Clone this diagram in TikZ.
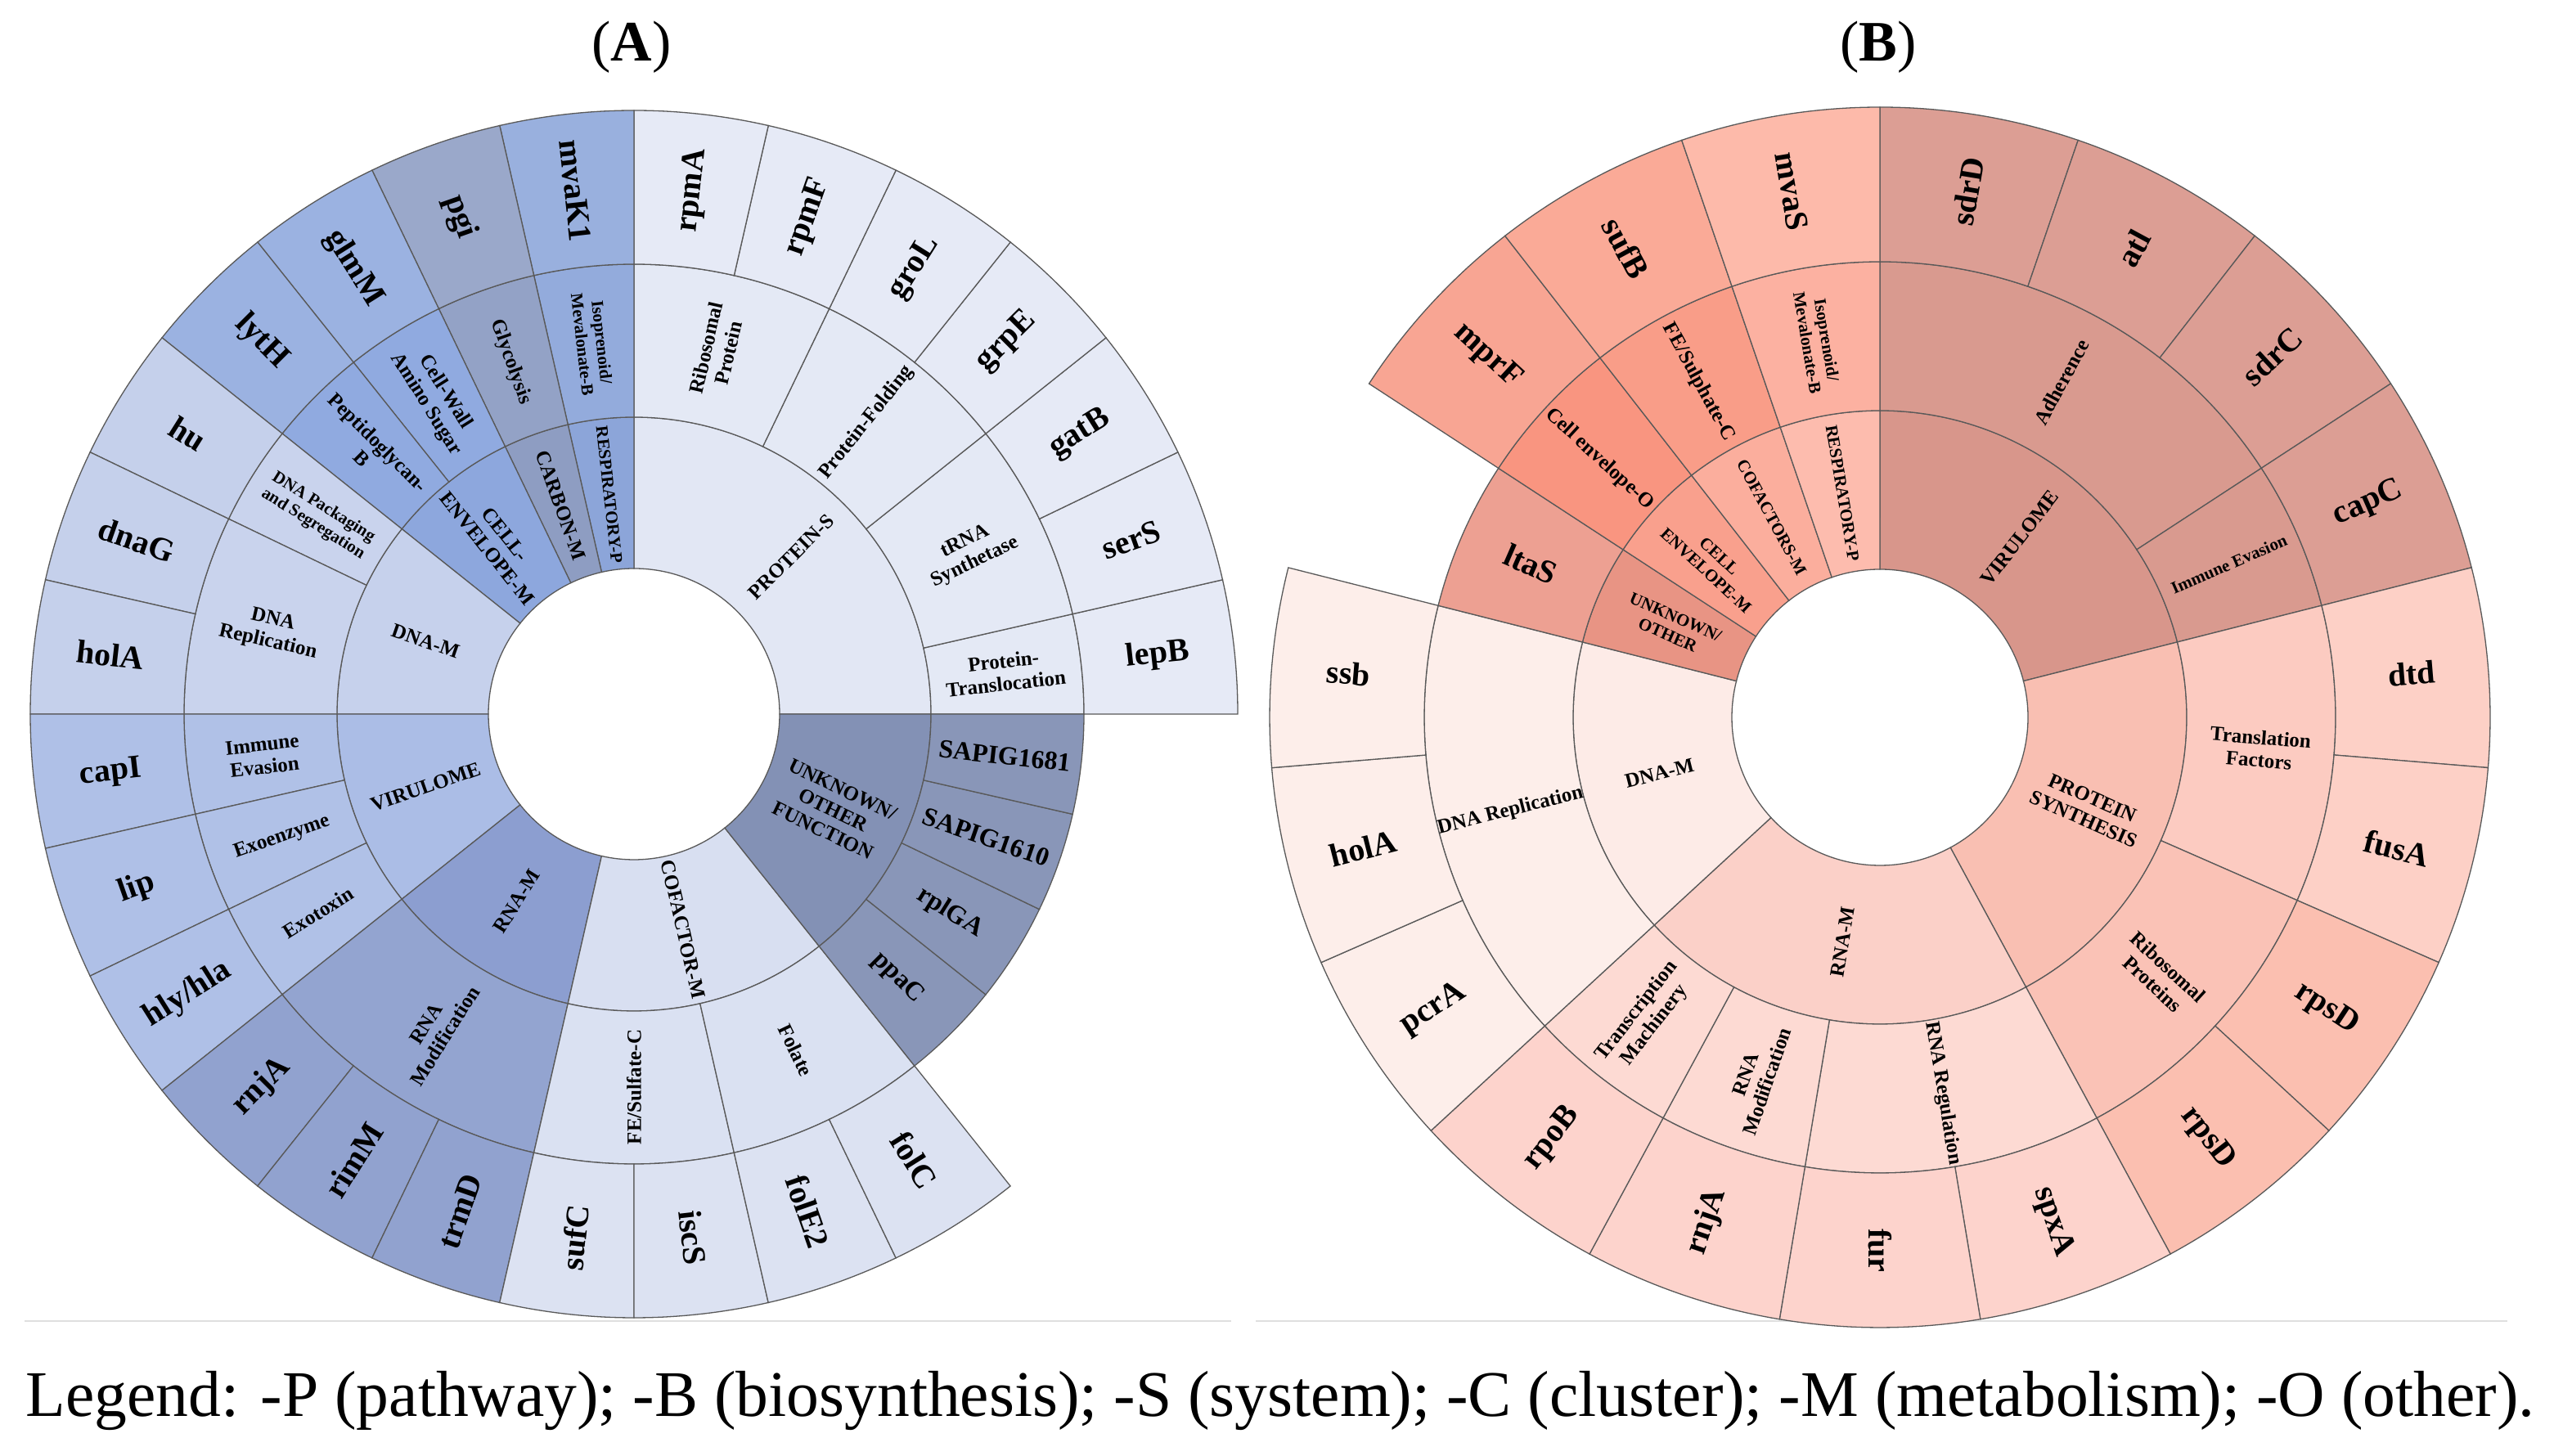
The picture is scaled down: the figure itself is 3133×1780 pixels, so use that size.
\documentclass[tikz,border=0pt]{standalone}
\usepackage{fontspec}
\setmainfont{Liberation Serif}
\usepackage{graphicx}
\newcommand{\sbseg}[5]{\filldraw[edge, fill=#5] ({#3}:#1) arc[start angle={#3}, end angle={#4}, radius=#1] -- ({#4}:#2) arc[start angle={#4}, end angle={#3}, radius=#2] -- cycle;}
\newcommand{\sblab}[4]{\pgfmathsetmacro\labang{mod(#2+720,360)}\pgfmathsetmacro\labrot{(\labang>90 && \labang<270) ? \labang-180 : \labang}\node[#3, rotate=\labrot, inner sep=1pt] at ({#2}:#1) {#4};}
\def\ua{12.857}
\def\ub{18.947}
\definecolor{pA1}{HTML}{E2E7F4}\definecolor{pA2}{HTML}{E4E9F5}\definecolor{pA3}{HTML}{E6EAF6}
\definecolor{rA1}{HTML}{8CA5D9}\definecolor{rA2}{HTML}{93ABDC}\definecolor{rA3}{HTML}{99B0DE}
\definecolor{cA1}{HTML}{8E9DC2}\definecolor{cA2}{HTML}{93A2C6}\definecolor{cA3}{HTML}{9AA8CA}
\definecolor{eA1}{HTML}{8DA7DD}\definecolor{eA2}{HTML}{90AAE0}\definecolor{eA3}{HTML}{9BB2E1}
\definecolor{dA1}{HTML}{C6D1EC}\definecolor{dA2}{HTML}{C9D3ED}\definecolor{dA3}{HTML}{C5D0EB}
\definecolor{vA1}{HTML}{ABBDE6}\definecolor{vA2}{HTML}{B0C1E7}\definecolor{vA3}{HTML}{AFC0E7}
\definecolor{nA1}{HTML}{8C9ED0}\definecolor{nA2}{HTML}{93A4D0}\definecolor{nA3}{HTML}{91A2CF}
\definecolor{fA1}{HTML}{D8DFF1}\definecolor{fA2}{HTML}{DAE1F2}\definecolor{fA3}{HTML}{DCE2F2}
\definecolor{uA1}{HTML}{8391B5}\definecolor{uA2}{HTML}{8996B8}
\definecolor{vB1}{HTML}{D8968B}\definecolor{vB2}{HTML}{D99A8F}\definecolor{vB3}{HTML}{DC9E94}
\definecolor{pB1}{HTML}{F9BFB2}\definecolor{pB2}{HTML}{FCCBC1}\definecolor{pB3}{HTML}{FAC2B6}\definecolor{pB4}{HTML}{FDD0C6}\definecolor{pB5}{HTML}{FBBFB0}
\definecolor{nB1}{HTML}{FBD0C8}\definecolor{nB2}{HTML}{FDDAD3}\definecolor{nB3}{HTML}{FDD3CC}
\definecolor{dB1}{HTML}{FDEBE7}\definecolor{dB2}{HTML}{FDEEEA}\definecolor{dB3}{HTML}{FDEEEA}
\definecolor{uB1}{HTML}{E89484}\definecolor{uB2}{HTML}{EDA092}
\definecolor{eB1}{HTML}{F9A08D}\definecolor{eB2}{HTML}{F99580}\definecolor{eB3}{HTML}{F8A593}
\definecolor{cB1}{HTML}{FBAE9D}\definecolor{cB2}{HTML}{F99D88}\definecolor{cB3}{HTML}{FAAA97}
\definecolor{rB1}{HTML}{FDBCAE}\definecolor{rB2}{HTML}{FCB1A1}\definecolor{rB3}{HTML}{FDBAAA}
\begin{document}
\begin{tikzpicture}[x=1pt,y=1pt,
  edge/.style={draw=black!65, line width=1.3pt},
  leaf/.style={font=\bfseries\fontsize{40}{44}\selectfont, align=center},
  leafs/.style={font=\bfseries\fontsize{32}{36}\selectfont, align=center},
  mid/.style={font=\bfseries\fontsize{25}{28}\selectfont, align=center},
  sm/.style={font=\bfseries\fontsize{21}{24}\selectfont, align=center}]
\useasboundingbox (0,0) rectangle (3133,1780);
\fill[white] (0,0) rectangle (3133,1780);
\draw[gray!25, line width=2pt] (30,165) -- (1505,165) (1535,165) -- (3065,165);
% ================= A =================
\begin{scope}[shift={(775,907)}]
\sbseg{178}{363}{0}{7*\ua}{pA1}
\sbseg{178}{363}{7*\ua}{8*\ua}{rA1}
\sbseg{178}{363}{8*\ua}{9*\ua}{cA1}
\sbseg{178}{363}{9*\ua}{11*\ua}{eA1}
\sbseg{178}{363}{11*\ua}{14*\ua}{dA1}
\sbseg{178}{363}{14*\ua}{17*\ua}{vA1}
\sbseg{178}{363}{17*\ua}{20*\ua}{nA1}
\sbseg{178}{363}{20*\ua}{24*\ua}{fA1}
\sbseg{178}{363}{24*\ua}{28*\ua}{uA1}
\sbseg{363}{550}{0}{1*\ua}{pA2}
\sbseg{363}{550}{1*\ua}{3*\ua}{pA2}
\sbseg{363}{550}{3*\ua}{5*\ua}{pA2}
\sbseg{363}{550}{5*\ua}{7*\ua}{pA2}
\sbseg{363}{550}{7*\ua}{8*\ua}{rA2}
\sbseg{363}{550}{8*\ua}{9*\ua}{cA2}
\sbseg{363}{550}{9*\ua}{10*\ua}{eA2}
\sbseg{363}{550}{10*\ua}{11*\ua}{eA2}
\sbseg{363}{550}{11*\ua}{12*\ua}{dA2}
\sbseg{363}{550}{12*\ua}{14*\ua}{dA2}
\sbseg{363}{550}{14*\ua}{15*\ua}{vA2}
\sbseg{363}{550}{15*\ua}{16*\ua}{vA2}
\sbseg{363}{550}{16*\ua}{17*\ua}{vA2}
\sbseg{363}{550}{17*\ua}{20*\ua}{nA2}
\sbseg{363}{550}{20*\ua}{22*\ua}{fA2}
\sbseg{363}{550}{22*\ua}{24*\ua}{fA2}
\foreach \k in {24,...,27}{\sbseg{363}{550}{\k*\ua}{(\k+1)*\ua}{uA2}}
\foreach \k in {0,...,6}{\sbseg{550}{738}{\k*\ua}{(\k+1)*\ua}{pA3}}
\sbseg{550}{738}{7*\ua}{8*\ua}{rA3}
\sbseg{550}{738}{8*\ua}{9*\ua}{cA3}
\foreach \k in {9,10}{\sbseg{550}{738}{\k*\ua}{(\k+1)*\ua}{eA3}}
\foreach \k in {11,12,13}{\sbseg{550}{738}{\k*\ua}{(\k+1)*\ua}{dA3}}
\foreach \k in {14,15,16}{\sbseg{550}{738}{\k*\ua}{(\k+1)*\ua}{vA3}}
\foreach \k in {17,18,19}{\sbseg{550}{738}{\k*\ua}{(\k+1)*\ua}{nA3}}
\foreach \k in {20,...,23}{\sbseg{550}{738}{\k*\ua}{(\k+1)*\ua}{fA3}}
\sblab{272}{3.5*\ua}{mid}{PROTEIN-S}
\sblab{270}{7.5*\ua}{sm}{RESPIRATORY-P}
\sblab{270}{8.5*\ua}{mid}{CARBON-M}
\sblab{270}{10*\ua}{mid}{CELL-\\ENVELOPE-M}
\sblab{270}{12.5*\ua}{mid}{DNA-M}
\sblab{270}{15.5*\ua}{mid}{VIRULOME}
\sblab{270}{18.5*\ua}{mid}{RNA-M}
\sblab{270}{22*\ua}{mid}{COFACTOR-M}
\sblab{270}{26*\ua}{mid}{UNKNOWN/\\OTHER\\FUNCTION}
\sblab{456}{0.5*\ua}{mid}{Protein-\\Translocation}
\sblab{456}{2*\ua}{mid}{tRNA\\Synthetase}
\sblab{456}{4*\ua}{mid}{Protein-Folding}
\sblab{456}{6*\ua}{mid}{Ribosomal\\Protein}
\sblab{456}{7.5*\ua}{sm}{Isoprenoid/\\Mevalonate-B}
\sblab{456}{8.5*\ua}{mid}{Glycolysis}
\sblab{456}{9.5*\ua}{mid}{Cell-Wall\\Amino Sugar}
\sblab{456}{10.5*\ua}{mid}{Peptidoglycan-\\B}
\sblab{456}{11.5*\ua}{sm}{DNA Packaging\\and Segregation}
\sblab{456}{13*\ua}{mid}{DNA\\Replication}
\sblab{456}{14.5*\ua}{mid}{Immune\\Evasion}
\sblab{456}{15.5*\ua}{mid}{Exoenzyme}
\sblab{456}{16.5*\ua}{mid}{Exotoxin}
\sblab{456}{18.5*\ua}{mid}{RNA\\Modification}
\sblab{456}{21*\ua}{mid}{FE/Sulfate-C}
\sblab{456}{23*\ua}{mid}{Folate}
\sblab{456}{24.5*\ua}{leafs}{ppaC}
\sblab{456}{25.5*\ua}{leafs}{rplGA}
\sblab{456}{26.5*\ua}{leafs}{SAPIG1610}
\sblab{456}{27.5*\ua}{leafs}{SAPIG1681}
\foreach \k/\t in {0/lepB,1/serS,2/gatB,3/grpE,4/groL,5/rpmF,6/rpmA,7/mvaK1,8/pgi,9/glmM,10/lytH,11/hu,12/dnaG,13/holA,14/capI,15/lip,16/hly\slash hla,17/rnjA,18/rimM,19/trmD,20/sufC,21/iscS,22/folE2,23/folC}{\sblab{644}{(\k+0.5)*\ua}{leaf}{\t}}
\end{scope}
\node (tA) at (772,1722) {\fontsize{70}{74}\selectfont(\textbf{A})};
% ================= B =================
\begin{scope}[shift={(2298,903)}]
\sbseg{181}{375}{90}{90-4*\ub}{vB1}
\sbseg{181}{375}{90-4*\ub}{90-8*\ub}{pB1}
\sbseg{181}{375}{90-8*\ub}{90-12*\ub}{nB1}
\sbseg{181}{375}{90-12*\ub}{90-15*\ub}{dB1}
\sbseg{181}{375}{90-15*\ub}{90-16*\ub}{uB1}
\sbseg{181}{375}{90-16*\ub}{90-17*\ub}{eB1}
\sbseg{181}{375}{90-17*\ub}{90-18*\ub}{cB1}
\sbseg{181}{375}{90-18*\ub}{90-19*\ub}{rB1}
\sbseg{375}{557}{90}{90-3*\ub}{vB2}
\sbseg{375}{557}{90-3*\ub}{90-4*\ub}{vB2}
\sbseg{375}{557}{90-4*\ub}{90-6*\ub}{pB2}
\sbseg{375}{557}{90-6*\ub}{90-8*\ub}{pB3}
\sbseg{375}{557}{90-8*\ub}{90-10*\ub}{nB2}
\sbseg{375}{557}{90-10*\ub}{90-11*\ub}{nB2}
\sbseg{375}{557}{90-11*\ub}{90-12*\ub}{nB2}
\sbseg{375}{557}{90-12*\ub}{90-15*\ub}{dB2}
\sbseg{375}{557}{90-15*\ub}{90-16*\ub}{uB2}
\sbseg{375}{557}{90-16*\ub}{90-17*\ub}{eB2}
\sbseg{375}{557}{90-17*\ub}{90-18*\ub}{cB2}
\sbseg{375}{557}{90-18*\ub}{90-19*\ub}{rB2}
\foreach \k in {0,...,3}{\sbseg{557}{746}{90-\k*\ub}{90-(\k+1)*\ub}{vB3}}
\foreach \k in {4,5}{\sbseg{557}{746}{90-\k*\ub}{90-(\k+1)*\ub}{pB4}}
\foreach \k in {6,7}{\sbseg{557}{746}{90-\k*\ub}{90-(\k+1)*\ub}{pB5}}
\foreach \k in {8,...,11}{\sbseg{557}{746}{90-\k*\ub}{90-(\k+1)*\ub}{nB3}}
\foreach \k in {12,13,14}{\sbseg{557}{746}{90-\k*\ub}{90-(\k+1)*\ub}{dB3}}
\sbseg{557}{746}{90-16*\ub}{90-17*\ub}{eB3}
\sbseg{557}{746}{90-17*\ub}{90-18*\ub}{cB3}
\sbseg{557}{746}{90-18*\ub}{90-19*\ub}{rB3}
\sblab{278}{90-2*\ub}{mid}{VIRULOME}
\sblab{278}{90-6*\ub}{mid}{PROTEIN\\SYNTHESIS}
\sblab{278}{90-10*\ub}{mid}{RNA-M}
\sblab{278}{90-13.5*\ub}{mid}{DNA-M}
\sblab{278}{90-15.5*\ub}{sm}{UNKNOWN/\\OTHER}
\sblab{278}{90-16.5*\ub}{sm}{CELL\\ENVELOPE-M}
\sblab{278}{90-17.5*\ub}{sm}{COFACTORS-M}
\sblab{278}{90-18.5*\ub}{sm}{RESPIRATORY-P}
\sblab{466}{90-1.5*\ub}{mid}{Adherence}
\sblab{466}{90-3.5*\ub}{sm}{Immune Evasion}
\sblab{466}{90-5*\ub}{mid}{Translation\\Factors}
\sblab{466}{90-7*\ub}{mid}{Ribosomal\\Proteins}
\sblab{466}{90-9*\ub}{mid}{RNA Regulation}
\sblab{466}{90-10.5*\ub}{mid}{RNA\\Modification}
\sblab{466}{90-11.5*\ub}{mid}{Transcription\\Machinery}
\sblab{466}{90-13.5*\ub}{mid}{DNA Replication}
\sblab{466}{90-15.5*\ub}{leaf}{ltaS}
\sblab{466}{90-16.5*\ub}{mid}{Cell envelope-O}
\sblab{466}{90-17.5*\ub}{mid}{FE/Sulphate-C}
\sblab{466}{90-18.5*\ub}{sm}{Isoprenoid/\\Mevalonate-B}
\foreach \k/\t in {0/sdrD,1/atl,2/sdrC,3/capC,4/dtd,5/fusA,6/rpsD,7/rpsD,8/spxA,9/fur,10/rnjA,11/rpoB,12/pcrA,13/holA,14/ssb,16/mprF,17/sufB,18/mvaS}{\sblab{652}{90-(\k+0.5)*\ub}{leaf}{\t}}
\end{scope}
\node (tB) at (2296,1722) {\fontsize{70}{74}\selectfont(\textbf{B})};
\node (legend) at (1565,68) {\resizebox{3065pt}{!}{Legend: -P (pathway); -B (biosynthesis); -S (system); -C (cluster); -M (metabolism); -O (other).}};
\end{tikzpicture}
\end{document}
